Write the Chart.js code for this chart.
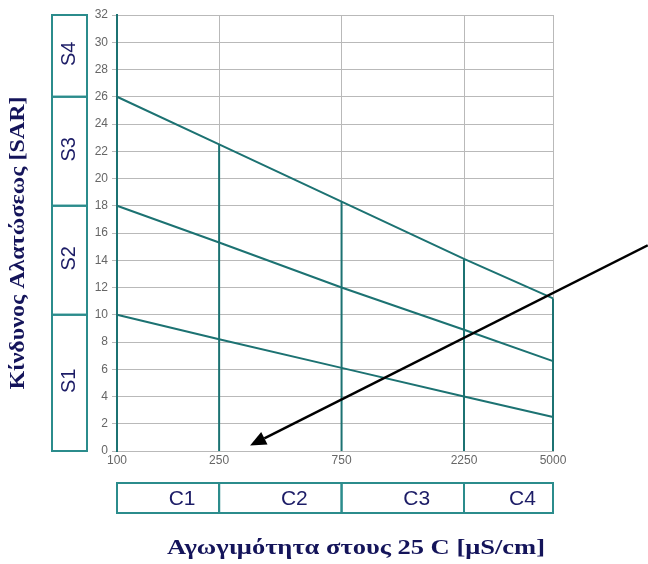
<!DOCTYPE html>
<html>
<head>
<meta charset="utf-8">
<script src="https://cdn.jsdelivr.net/npm/chart.js@4.4.1/dist/chart.umd.min.js"></script>
<style>
    html, body { margin: 0; padding: 0; background: #fff; }
    #wrap { width: 648px; height: 564px; }
</style>
</head>
<body>
<div id="wrap"><canvas id="chart" width="648" height="564"></canvas></div>
<script>
// conductivity ticks (µS/cm) and the SAR values of the three class borders at each tick
const xTicks = [100, 250, 750, 2250, 5000];
const sarHigh = [26, 22.5, 18.3, 14.1, 11.2];
const sarMid = [18, 15.3, 12.0, 8.9, 6.6];
const sarLow = [10, 8.2, 6.1, 4.0, 2.5];

const sLabels = ['S1', 'S2', 'S3', 'S4'];
const sBounds = [0, 10, 18, 26, 32];
const cLabels = ['C1', 'C2', 'C3', 'C4'];
const cBounds = [100, 250, 750, 2250, 5000];

const yTitle = 'Κίνδυνος Αλατώσεως [SAR]';
const xTitle = 'Αγωγιμότητα στους 25 C [μS/cm]';

// arrow annotation, in data units (x, y)
const arrowStart = [11700, 15.1];
const arrowEnd = [330, 0.4];

const lineColor = '#1c7272';
const boxColor = '#2b8c8c';
const textColor = '#1c1c66';
const gridColor = '#b9b9b9';
const tickColor = '#666';

function toPoints(values) {
    return xTicks.map((x, i) => ({x: x, y: values[i]}));
}

const datasets = [sarHigh, sarMid, sarLow].map(values => ({
    data: toPoints(values),
    borderColor: lineColor,
    borderWidth: 2,
}));

// vertical class borders from 0 up to the top line
xTicks.slice(1).forEach((x, i) => {
    datasets.push({
        data: [{x: x, y: 0}, {x: x, y: sarHigh[i + 1]}],
        borderColor: lineColor,
        borderWidth: 2,
    });
});

// draw text centred at (cx, cy), squeezed/stretched to a given width
function fitText(ctx, text, cx, cy, width, angle) {
    const w = ctx.measureText(text).width;
    ctx.save();
    ctx.translate(cx, cy);
    ctx.rotate(angle);
    ctx.scale(width / w, 1);
    ctx.fillText(text, 0, 0);
    ctx.restore();
}

const overlay = {
    id: 'overlay',
    afterDraw(chart) {
        const {ctx, chartArea} = chart;
        const xs = chart.scales.x, ys = chart.scales.y;
        ctx.save();

        // S boxes on the left
        ctx.strokeStyle = boxColor;
        ctx.lineWidth = 2;
        const sLeft = chartArea.left - 65, sRight = chartArea.left - 30;
        ctx.font = '20px "Liberation Sans", Arial, sans-serif';
        ctx.textAlign = 'center';
        ctx.textBaseline = 'middle';
        for (let i = 0; i < sLabels.length; i++) {
            const yb = ys.getPixelForValue(sBounds[i]);
            const yt = ys.getPixelForValue(sBounds[i + 1]);
            ctx.strokeRect(sLeft, yt, sRight - sLeft, yb - yt);
            ctx.save();
            ctx.translate((sLeft + sRight) / 2, (yt + yb) / 2 - 2);
            ctx.rotate(-Math.PI / 2);
            ctx.fillStyle = textColor;
            ctx.fillText(sLabels[i], 0, 0);
            ctx.restore();
        }

        // C boxes below
        ctx.font = '21px "Liberation Sans", Arial, sans-serif';
        const cTop = chartArea.bottom + 32, cBottom = chartArea.bottom + 62;
        for (let i = 0; i < cLabels.length; i++) {
            const xl = xs.getPixelForValue(cBounds[i]);
            const xr = xs.getPixelForValue(cBounds[i + 1]);
            ctx.strokeRect(xl, cTop, xr - xl, cBottom - cTop);
            ctx.fillStyle = textColor;
            ctx.fillText(cLabels[i], (xl + xr) / 2 + 14, (cTop + cBottom) / 2 + 1);
        }

        // axis titles
        ctx.fillStyle = '#14145a';
        ctx.font = 'bold 22px "Liberation Serif", "Times New Roman", serif';
        fitText(ctx, xTitle, 356, 548, 378, 0);
        fitText(ctx, yTitle, 18, 243, 293, -Math.PI / 2);

        // arrow
        const x0 = xs.getPixelForValue(arrowStart[0]), y0 = ys.getPixelForValue(arrowStart[1]);
        const x1 = xs.getPixelForValue(arrowEnd[0]), y1 = ys.getPixelForValue(arrowEnd[1]);
        const ang = Math.atan2(y1 - y0, x1 - x0);
        const headLen = 16, headW = 7;
        const bx = x1 - headLen * Math.cos(ang), by = y1 - headLen * Math.sin(ang);
        ctx.strokeStyle = '#000';
        ctx.lineWidth = 2.5;
        ctx.beginPath();
        ctx.moveTo(x0, y0);
        ctx.lineTo(bx, by);
        ctx.stroke();
        ctx.fillStyle = '#000';
        ctx.beginPath();
        ctx.moveTo(x1, y1);
        ctx.lineTo(bx + headW * Math.sin(ang), by - headW * Math.cos(ang));
        ctx.lineTo(bx - headW * Math.sin(ang), by + headW * Math.cos(ang));
        ctx.closePath();
        ctx.fill();

        ctx.restore();
    }
};

new Chart(document.getElementById('chart'), {
    type: 'scatter',
    data: {datasets: datasets},
    options: {
        responsive: false,
        animation: false,
        showLine: true,
        layout: {padding: {left: 0, right: 95, top: 15, bottom: 0}},
        elements: {point: {radius: 0, hoverRadius: 0}, line: {tension: 0}},
        datasets: {scatter: {clip: false}},
        plugins: {
            legend: {display: false},
            tooltip: {enabled: false},
        },
        scales: {
            x: {
                type: 'logarithmic',
                min: 100,
                max: 5000,
                afterBuildTicks: scale => { scale.ticks = xTicks.map(v => ({value: v})); },
                afterFit: scale => { scale.height = 113; },
                ticks: {
                    callback: v => String(v),
                    autoSkip: false,
                    maxRotation: 0,
                    padding: 2,
                    color: tickColor,
                    font: {family: '"Liberation Sans", Arial, sans-serif', size: 12},
                },
                grid: {color: gridColor, drawTicks: false},
                border: {color: gridColor},
            },
            y: {
                min: 0,
                max: 32,
                afterFit: scale => { scale.width = 117; },
                ticks: {
                    stepSize: 2,
                    padding: 4,
                    color: tickColor,
                    font: {family: '"Liberation Sans", Arial, sans-serif', size: 12},
                },
                grid: {color: gridColor, tickLength: 5},
                border: {color: lineColor, width: 2},
            }
        }
    },
    plugins: [overlay]
});
</script>
</body>
</html>
